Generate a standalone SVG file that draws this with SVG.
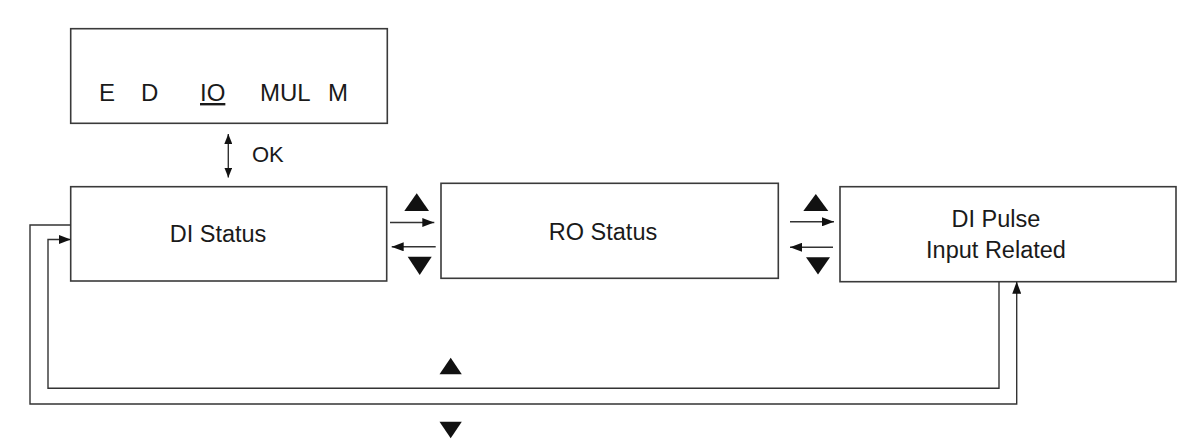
<svg xmlns="http://www.w3.org/2000/svg" width="1196" height="444" viewBox="0 0 1196 444">
  <style>
    .box { fill: #ffffff; stroke: #3a3a3a; stroke-width: 1.6; }
    .lbl { font-family: "Liberation Sans", Arial, sans-serif; font-size: 23.5px; fill: #1a1a1a; }
    .menu { font-family: "Liberation Sans", Arial, sans-serif; font-size: 24px; fill: #1a1a1a; }
    .conn { fill: none; stroke: #333333; stroke-width: 1.4; }
    .tri { fill: #111111; }
  </style>
  <defs>
    <marker id="ah" markerUnits="userSpaceOnUse" markerWidth="12" markerHeight="9" refX="12" refY="4.5" orient="auto">
      <path d="M0,0 L12,4.5 L0,9 z" fill="#111111"/>
    </marker>
    <marker id="ahs" markerUnits="userSpaceOnUse" markerWidth="10" markerHeight="8" refX="10" refY="4" orient="auto-start-reverse">
      <path d="M0,0 L10,4 L0,8 z" fill="#111111"/>
    </marker>
  </defs>
  <rect width="1196" height="444" fill="#ffffff"/>

  <g id="menu">
    <rect class="box" x="70.7" y="28.7" width="316.6" height="94.6"/>
    <text class="menu" x="99" y="101">E</text>
    <text class="menu" x="141" y="101">D</text>
    <text class="menu" x="200" y="101" text-decoration="underline">IO</text>
    <text class="menu" x="260" y="101">MUL</text>
    <text class="menu" x="328" y="101">M</text>
  </g>

  <g id="di-status">
    <rect class="box" x="70.7" y="186.7" width="316" height="94.3"/>
    <text class="lbl" x="218" y="242" text-anchor="middle">DI Status</text>
  </g>

  <g id="ro-status">
    <rect class="box" x="441" y="183.3" width="337.3" height="95"/>
    <text class="lbl" x="603" y="240" text-anchor="middle">RO Status</text>
  </g>

  <g id="di-pulse">
    <rect class="box" x="840" y="186.7" width="336" height="95"/>
    <text class="lbl" x="996" y="227" text-anchor="middle">DI Pulse</text>
    <text class="lbl" x="996" y="258" text-anchor="middle">Input Related</text>
  </g>

  <g id="connectors">
    <!-- OK double arrow -->
    <line class="conn" x1="228.3" y1="134" x2="228.3" y2="177.5" marker-start="url(#ahs)" marker-end="url(#ahs)"/>
    <text class="lbl" x="252" y="162" style="font-size:22px">OK</text>

    <!-- DI Status <-> RO Status -->
    <polygon class="tri" points="404.3,211 429,211 416.7,193.3"/>
    <line class="conn" x1="390" y1="222.5" x2="434.3" y2="222.5" marker-end="url(#ah)"/>
    <line class="conn" x1="435.7" y1="246.8" x2="391.7" y2="246.8" marker-end="url(#ah)"/>
    <polygon class="tri" points="407.7,256.7 431.7,256.7 419.7,275"/>

    <!-- RO Status <-> DI Pulse -->
    <polygon class="tri" points="803.3,211 828.3,211 815.8,194"/>
    <line class="conn" x1="790" y1="221.8" x2="834" y2="221.8" marker-end="url(#ah)"/>
    <line class="conn" x1="833" y1="247.3" x2="790" y2="247.3" marker-end="url(#ah)"/>
    <polygon class="tri" points="806,257.3 830,257.3 818,274.5"/>

    <!-- loop back: DI Pulse -> DI Status (inner) -->
    <polyline class="conn" points="999,281.7 999,388.2 48,388.2 48,239.5 70.7,239.5" marker-end="url(#ah)"/>
    <!-- loop: DI Status -> DI Pulse (outer) -->
    <polyline class="conn" points="70.7,225 30,225 30,404 1016.7,404 1016.7,281.7" marker-end="url(#ah)"/>

    <polygon class="tri" points="439.5,374.3 461.8,374.3 450.7,357.7"/>
    <polygon class="tri" points="439.5,421.7 461.8,421.7 450.7,438.3"/>
  </g>
</svg>
